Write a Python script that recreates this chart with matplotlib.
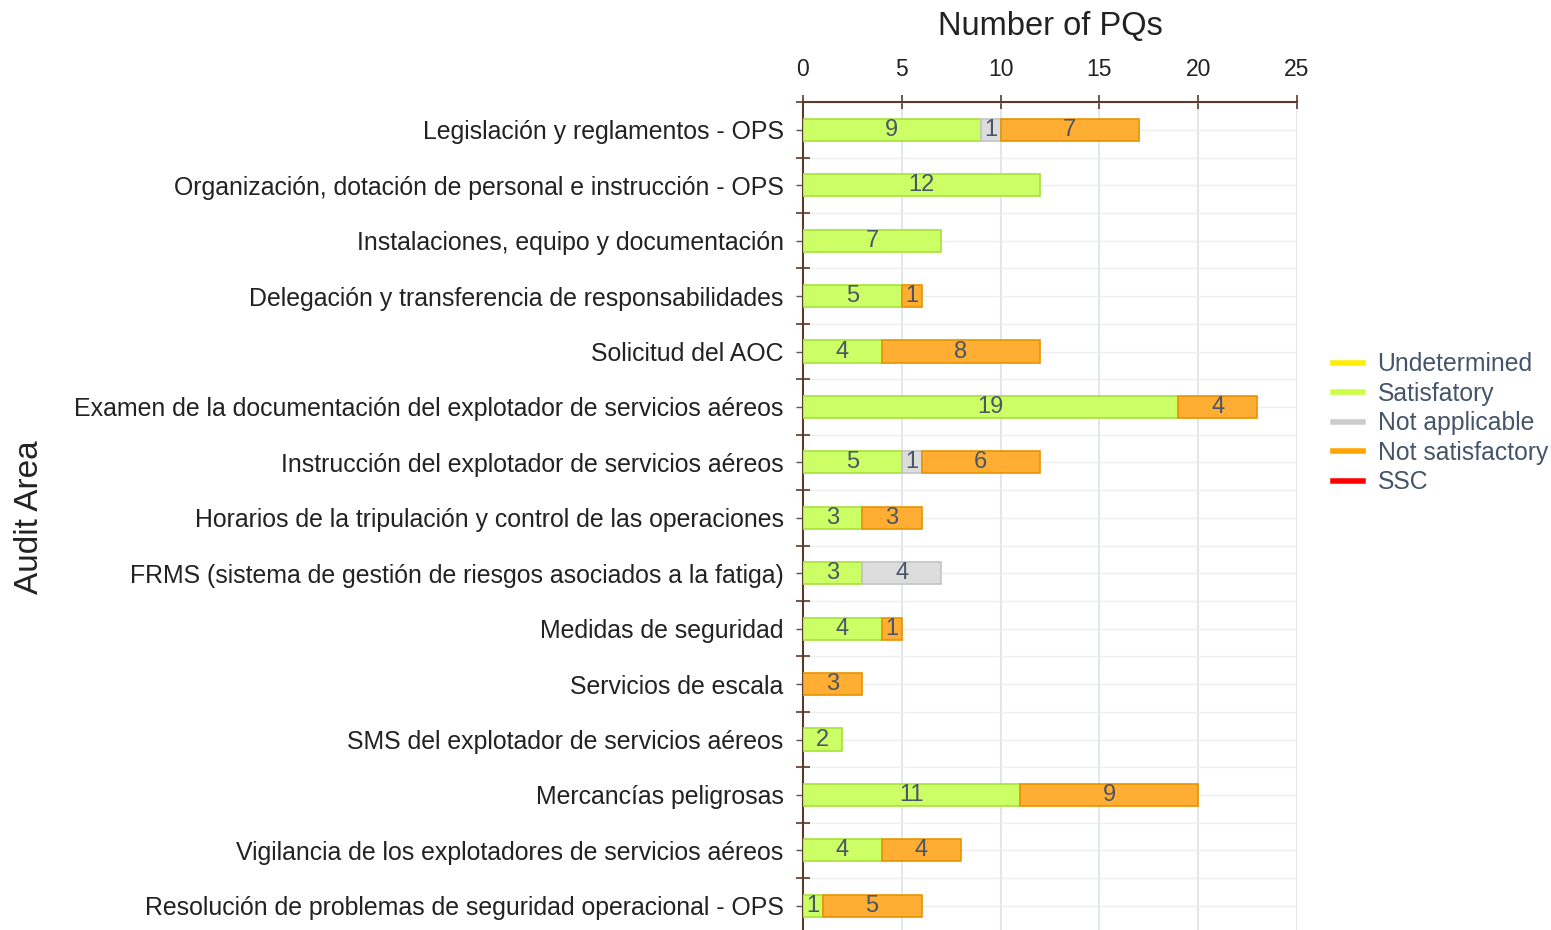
import matplotlib
matplotlib.use("Agg")
import matplotlib.pyplot as plt
from matplotlib.lines import Line2D
import numpy as np

plt.rcParams['font.family'] = ['Liberation Sans', 'DejaVu Sans']

categories = [
    "Legislación y reglamentos - OPS",
    "Organización, dotación de personal e instrucción - OPS",
    "Instalaciones, equipo y documentación",
    "Delegación y transferencia de responsabilidades",
    "Solicitud del AOC",
    "Examen de la documentación del explotador de servicios aéreos",
    "Instrucción del explotador de servicios aéreos",
    "Horarios de la tripulación y control de las operaciones",
    "FRMS (sistema de gestión de riesgos asociados a la fatiga)",
    "Medidas de seguridad",
    "Servicios de escala",
    "SMS del explotador de servicios aéreos",
    "Mercancías peligrosas",
    "Vigilancia de los explotadores de servicios aéreos",
    "Resolución de problemas de seguridad operacional - OPS",
]
undetermined   = [0, 0, 0, 0, 0, 0, 0, 0, 0, 0, 0, 0, 0, 0, 0]
satisfactory   = [9, 12, 7, 5, 4, 19, 5, 3, 3, 4, 0, 2, 11, 4, 1]
not_applicable = [1, 0, 0, 0, 0, 0, 1, 0, 4, 0, 0, 0, 0, 0, 0]
not_satisfactory = [7, 0, 0, 1, 8, 4, 6, 3, 0, 1, 3, 0, 9, 4, 5]
ssc            = [0, 0, 0, 0, 0, 0, 0, 0, 0, 0, 0, 0, 0, 0, 0]
series_names = ["Undetermined", "Satisfatory", "Not applicable", "Not satisfactory", "SSC"]
x_ticks = [0, 5, 10, 15, 20, 25]

series = [undetermined, satisfactory, not_applicable, not_satisfactory, ssc]
faces = ["#ffee00", "#ccff66", "#dddddd", "#ffad33", "#ff0000"]
edges = ["#e6d600", "#a6e03a", "#c4c4c4", "#e69400", "#dd0000"]
legend_cols = ["#ffee00", "#ccff44", "#cccccc", "#ffa500", "#ff0000"]

fig = plt.figure(figsize=(15.51, 9.30), dpi=100)
ax = fig.add_axes([0.5177, -0.0038, 0.8362 - 0.5177, 0.894])

n = len(categories)
y = np.arange(n)
left = np.zeros(n)
for vals, fc, ec in zip(series, faces, edges):
    v = np.array(vals, dtype=float)
    mask = v > 0
    if mask.any():
        ax.barh(y[mask], v[mask], left=left[mask], height=0.4, color=fc,
                edgecolor=ec, linewidth=1.2, zorder=3)
    for yi in y[mask]:
        ax.text(left[yi] + v[yi] / 2, yi, f"{int(v[yi])}", ha="center", va="center",
                fontsize=17, color="#4a5566", zorder=4)
    left += v

ax.set_xlim(0, 25)
ax.set_ylim(n - 0.5, -0.5)
ax.xaxis.tick_top()
ax.xaxis.set_label_position("top")
ax.set_xticks(x_ticks)
ax.set_xticklabels([str(t) for t in x_ticks], fontsize=16.5, color="#222222")
ax.tick_params(axis="x", direction="inout", length=10, width=1.2, color="#5a3a2a", pad=10)
ax.set_xlabel("Number of PQs", fontsize=23.5, color="#222222", labelpad=17)

ax.set_yticks(y)
ax.set_yticklabels(categories, fontsize=17.9, color="#222222")
ax.set_yticks(np.arange(n + 1) - 0.5, minor=True)
ax.tick_params(axis="y", which="major", direction="out", length=5, width=1, color="#555555", pad=9)
ax.tick_params(axis="y", which="minor", direction="inout", length=10, width=1.2, color="#5a3a2a")

fig.text(30 / 1551, 1 - 517 / 930, "Audit Area", rotation=90, ha="center", va="center",
         fontsize=24, color="#222222")

for s in ["right", "bottom"]:
    ax.spines[s].set_visible(False)
for s in ["top", "left"]:
    ax.spines[s].set_color("#5a3a2a")
    ax.spines[s].set_linewidth(1.5)

ax.grid(axis="x", color="#dde4ee", linewidth=1.3, zorder=0)
ax.grid(axis="y", which="both", color="#eeeeee", linewidth=1.0, zorder=0)
ax.set_axisbelow(True)

handles = [Line2D([0], [0], color=c, lw=4) for c in legend_cols]
fig.legend(handles, series_names, loc="upper left", bbox_to_anchor=(0.8595, 0.621),
           frameon=False, fontsize=17.8, handlelength=1.2, handletextpad=0.6,
           labelspacing=0.22, labelcolor="#44556a", borderaxespad=0, borderpad=0)

fig.savefig("out.png", dpi=100)
